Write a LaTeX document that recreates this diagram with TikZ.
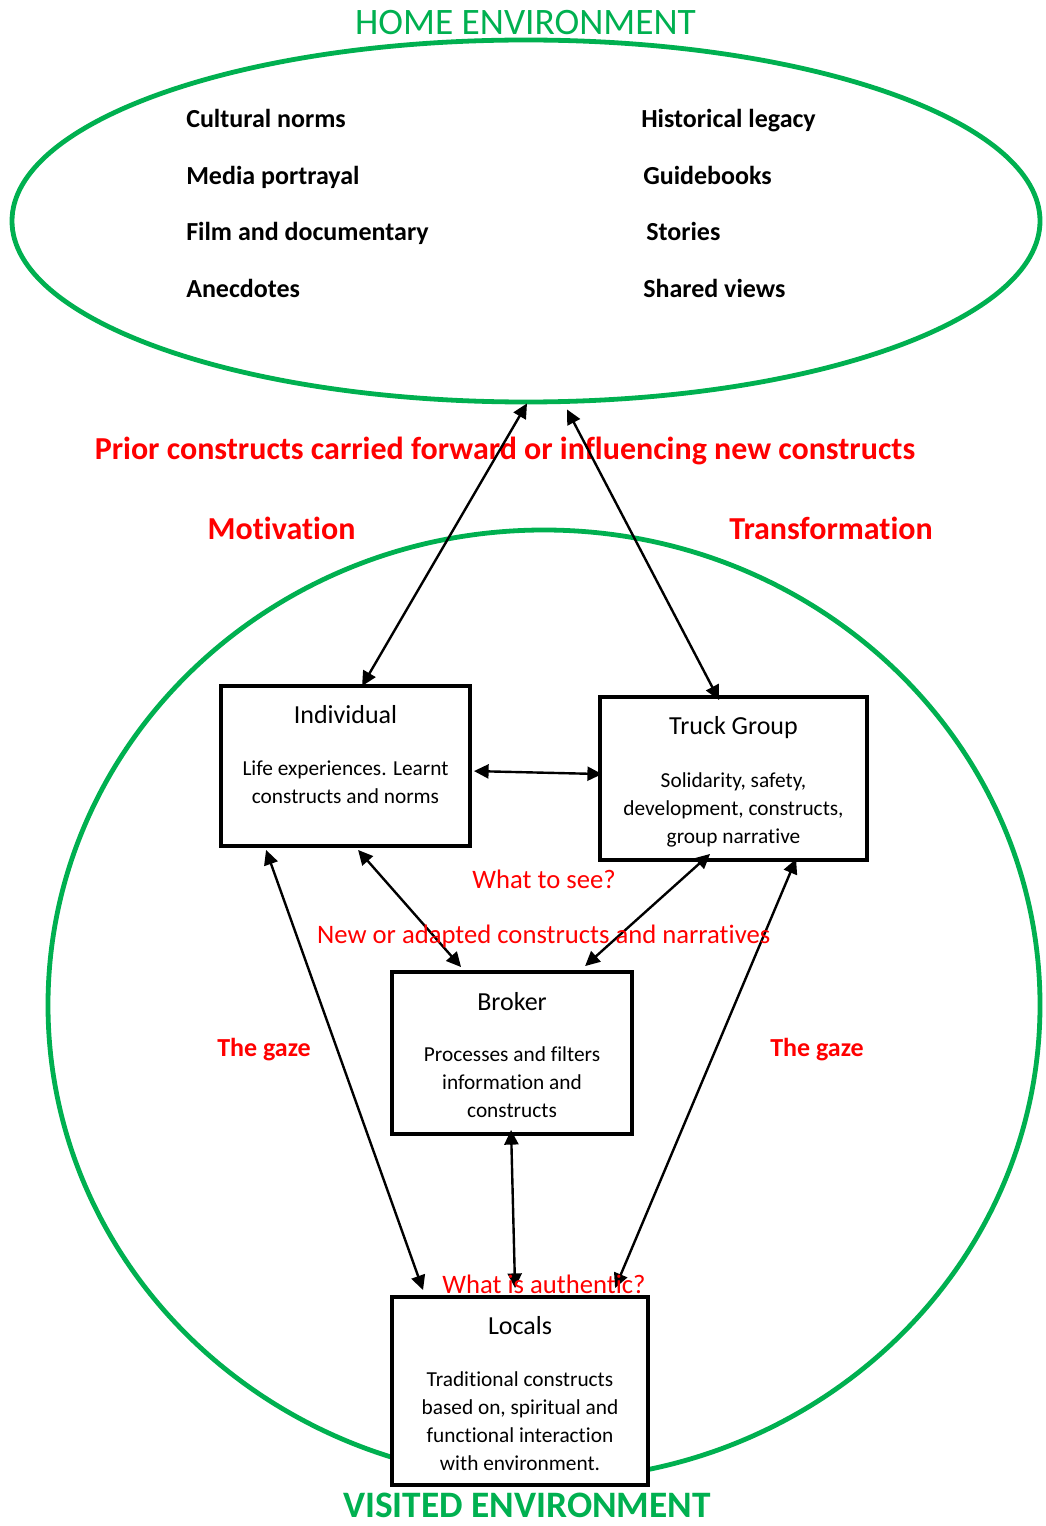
\documentclass[tikz,border=0pt]{standalone}
\usepackage{fontspec}
\setmainfont{Carlito}[RawFeature={-liga}]
\usetikzlibrary{arrows.meta,calc,shapes.geometric}
\definecolor{envgreen}{HTML}{00B050}
\definecolor{labelred}{HTML}{FF0000}
\begin{document}
\begin{tikzpicture}[x=0.75pt,y=-0.75pt,
  envring/.style={draw=envgreen,line width=3.6pt,ellipse,inner sep=0pt},
  envname/.style={text=envgreen,font=\fontsize{28}{32}\selectfont,inner sep=0pt,anchor=base},
  item/.style={font=\bfseries\fontsize{19.5}{23}\selectfont,inner sep=0pt,anchor=base west},
  actor/.style={draw,line width=2.9pt,fill=white,inner sep=0pt},
  boxtitle/.style={font=\fontsize{19.5}{23}\selectfont,inner sep=0pt,anchor=base},
  boxbody/.style={font=\fontsize{16}{21}\selectfont,align=center,inner sep=0pt},
  note/.style={text=labelred,font=\fontsize{20}{24}\selectfont,inner sep=0pt,anchor=base},
  keyword/.style={text=labelred,font=\bfseries\fontsize{24}{28}\selectfont,inner sep=0pt,anchor=base},
  gaze/.style={text=labelred,font=\bfseries\fontsize{19.5}{23}\selectfont,inner sep=0pt,anchor=base},
  link/.style={line width=1.8pt,{Triangle[length=11pt,width=10.5pt]}-{Triangle[length=11pt,width=10.5pt]}}]
\useasboundingbox (0,0) rectangle (1045,1526);

% the two environments
\node[envring,minimum width=771pt,minimum height=271.5pt] (home) at (526,221) {};
\node[envring,minimum width=744pt,minimum height=712.5pt] (visited) at (544,1005) {};
\node[envname] (homeT) at (525.5,35) {HOME ENVIRONMENT};
\node[envname,font=\bfseries\fontsize{28}{32}\selectfont] (visitedT) at (527,1517) {VISITED ENVIRONMENT};

% influences carried from home
\node[item] (i1) at (186,128) {Cultural norms};
\node[item] (i2) at (186,184.5) {Media portrayal};
\node[item] (i3) at (186,241) {Film and documentary};
\node[item] (i4) at (186,297.5) {Anecdotes};
\node[item] (i5) at (641,128) {Historical legacy};
\node[item] (i6) at (643,184.5) {Guidebooks};
\node[item] (i7) at (646,241) {Stories};
\node[item] (i8) at (643,297.5) {Shared views};

% actors in the visited environment
\node[actor,minimum width=186.75pt,minimum height=120pt] (ind) at (345.5,766) {};
\node[actor,minimum width=200.25pt,minimum height=122.25pt] (truck) at (733.5,778.5) {};
\node[actor,minimum width=180pt,minimum height=121.5pt] (broker) at (512,1053) {};
\node[actor,minimum width=192pt,minimum height=141pt] (locals) at (520,1391) {};

\node[boxtitle] (indT) at (345.5,723) {Individual};
\node[boxbody] (indB) at (345.5,782) {Life experiences. Learnt\\constructs and norms};
\node[boxtitle] (truckT) at (733.5,734) {Truck Group};
\node[boxbody] (truckB) at (733.5,810) {Solidarity, safety,\\development, constructs,\\group narrative};
\node[boxtitle] (brokerT) at (512,1010) {Broker};
\node[boxbody] (brokerB) at (512,1082) {Processes and filters\\information and\\constructs};
\node[boxtitle] (localsT) at (520,1334) {Locals};
\node[boxbody] (localsB) at (520,1421) {Traditional constructs\\based on, spiritual and\\functional interaction\\with environment.};

% red labels
\node[keyword] (prior) at (505,459) {Prior constructs carried forward or influencing new constructs};
\node[keyword] (motiv) at (281.5,539) {Motivation};
\node[keyword] (transf) at (831,539) {Transformation};
\node[gaze] (gazeL) at (264,1056) {The gaze};
\node[gaze] (gazeR) at (817,1056) {The gaze};

% connectors
\draw[link] ($(home.south)+(1,-1)$) -- ($(ind.north west)+(143,2)$);
\draw[link] ($(home.south)+(41,5)$) -- ($(truck.north west)+(121,5)$);
\draw[link] ($(ind.north east)+(2,87)$) -- ($(truck.north west)+(4,79)$);
\draw[link] ($(ind.south west)+(47,2)$) -- ($(locals.north west)+(33,-5)$);
\draw[link] ($(ind.south west)+(139,2)$) -- ($(broker.north west)+(71,-3)$);
\draw[link] ($(truck.south west)+(112,-8)$) -- ($(broker.north west)+(195,-4)$);
\draw[link] ($(truck.south west)+(198,-3)$) -- ($(locals.north west)+(225,-7)$);
\draw[link] ($(broker.south west)+(121,-6)$) -- ($(locals.north west)+(125,-7)$);

% notes drawn over the connectors
\node[note] (see) at (544,888) {What to see?};
\node[note] (adapted) at (543.7,943) {New or adapted constructs and narratives};
\node[note] (authentic) at (544,1293) {What is authentic?};
\end{tikzpicture}
\end{document}
